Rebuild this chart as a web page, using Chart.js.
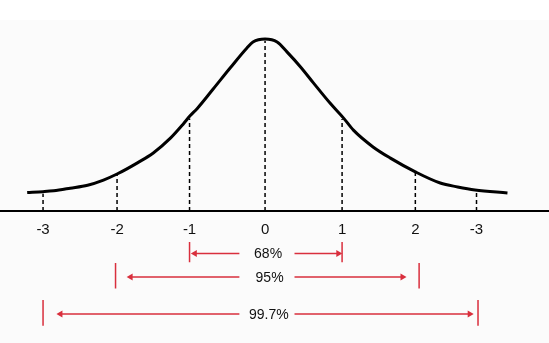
<!DOCTYPE html>
<html>
<head>
<meta charset="utf-8">
<script src="https://cdn.jsdelivr.net/npm/chart.js@4/dist/chart.umd.min.js"></script>
<style>
  html, body { margin: 0; padding: 0; background: linear-gradient(#ffffff 0 20px, #fbfbfb 20px); }
  #wrap { width: 549px; height: 343px; position: relative; }
</style>
</head>
<body>
<div id="wrap"><canvas id="chart"></canvas></div>
<script>
// Bell curve (x in sigma units, y as density)
var curveX = [-3.14, -2.93, -2.79, -2.57, -2.34, -2.13, -1.95, -1.68, -1.47, -1.24, -1.07, -0.98, -0.89, -0.68, -0.45, -0.23, -0.15, 0.01,
              0.17, 0.30, 0.48, 0.65, 0.87, 1.05, 1.18, 1.44, 1.67, 2.00, 2.33, 2.56, 2.79, 3.22];
var curveY = [0.043, 0.045, 0.047, 0.053, 0.060, 0.072, 0.086, 0.112, 0.135, 0.170, 0.203, 0.222, 0.238, 0.283, 0.333, 0.379, 0.393, 0.400,
              0.393, 0.370, 0.335, 0.298, 0.251, 0.216, 0.188, 0.149, 0.123, 0.091, 0.065, 0.056, 0.049, 0.042];

// Tick positions and labels (the right-most label reads "-3" in the original)
var tickPos = [-2.93, -1.95, -0.99, 0.01, 1.03, 2.0, 2.81];
var tickLabels = ['-3', '-2', '-1', '0', '1', '2', '-3'];

// Dashed drop lines: where they meet the curve
var dropTop = [0.040, 0.086, 0.215, 0.396, 0.214, 0.091, 0.046];

// Coverage bands
var bandLabels = ['68%', '95%', '99.7%'];
var bandLeft = [-0.99, -1.97, -2.93];
var bandRight = [1.03, 2.05, 2.83];
var bandRow = [-0.099, -0.1535, -0.2395];
var bandTickTop = [-0.072, -0.121, -0.207];
var bandTickBottom = [-0.119, -0.180, -0.267];
var arrowLeftTip = [-0.92, -1.77, -2.70];
var arrowRightTip = [0.98, 1.83, 2.72];
var textGapLeft = [-0.33, -0.33, -0.33];
var textGapRight = [0.40, 0.40, 0.40];
var textX = [0.05, 0.07, 0.06];

var red = '#d92f3d';

// build datasets
var curvePts = curveX.map(function (x, i) { return { x: x, y: curveY[i] }; });

var dropPts = [];
tickPos.forEach(function (x, i) {
    dropPts.push({ x: x, y: 0 }, { x: x, y: dropTop[i] }, { x: x, y: null });
});

var barPts = [];
bandLeft.forEach(function (x, i) {
    barPts.push({ x: x, y: bandTickTop[i] }, { x: x, y: bandTickBottom[i] }, { x: x, y: null });
    barPts.push({ x: bandRight[i], y: bandTickTop[i] }, { x: bandRight[i], y: bandTickBottom[i] }, { x: bandRight[i], y: null });
});

var datasets = [
    {
        data: curvePts, borderColor: '#000', borderWidth: 3, tension: 0.4,
        cubicInterpolationMode: 'monotone', pointRadius: 0, order: 1
    },
    {
        data: dropPts, borderColor: '#000', borderWidth: 1.5, borderDash: [4, 3],
        pointRadius: 0, spanGaps: false, order: 2
    },
    {
        data: barPts, borderColor: red, borderWidth: 1.5, pointRadius: 0, spanGaps: false
    }
];

// arrows: one dataset per half, tip drawn as a rotated triangle
bandRow.forEach(function (y, i) {
    datasets.push({
        data: [{ x: arrowLeftTip[i], y: y }, { x: textGapLeft[i], y: y }],
        borderColor: red, backgroundColor: red, borderWidth: 1.5,
        pointStyle: 'triangle', pointRadius: [4, 0], pointRotation: -90, pointBorderWidth: 0
    });
    datasets.push({
        data: [{ x: textGapRight[i], y: y }, { x: arrowRightTip[i], y: y }],
        borderColor: red, backgroundColor: red, borderWidth: 1.5,
        pointStyle: 'triangle', pointRadius: [0, 4], pointRotation: 90, pointBorderWidth: 0
    });
});

// band percentage text
var bandText = {
    id: 'bandText',
    afterDatasetsDraw: function (chart) {
        var ctx = chart.ctx;
        var xs = chart.scales.x, ys = chart.scales.y;
        ctx.save();
        ctx.fillStyle = '#111';
        ctx.font = '14px "Liberation Sans", Arial, sans-serif';
        ctx.textAlign = 'center';
        ctx.textBaseline = 'middle';
        bandLabels.forEach(function (t, i) {
            ctx.fillText(t, xs.getPixelForValue(textX[i]), ys.getPixelForValue(bandRow[i]) + 1);
        });
        ctx.restore();
    }
};

new Chart(document.getElementById('chart'), {
    type: 'line',
    data: { datasets: datasets },
    options: {
        responsive: true,
        maintainAspectRatio: false,
        animation: false,
        layout: { padding: 0, autoPadding: false },
        plugins: { legend: { display: false }, tooltip: { enabled: false } },
        scales: {
            x: {
                type: 'linear',
                min: -3.5,
                max: 3.77,
                position: { y: 0 },
                grid: { drawOnChartArea: false, drawTicks: false },
                border: { display: true, color: '#000', width: 2 },
                afterBuildTicks: function (scale) {
                    scale.ticks = tickPos.map(function (v) { return { value: v }; });
                },
                ticks: {
                    autoSkip: false,
                    maxRotation: 0,
                    padding: 10,
                    color: '#111',
                    font: { family: '"Liberation Sans", Arial, sans-serif', size: 15 },
                    callback: function (v, i) { return tickLabels[i]; }
                }
            },
            y: {
                display: false,
                min: -0.307,
                max: 0.4907
            }
        }
    },
    plugins: [bandText]
});
</script>
</body>
</html>
